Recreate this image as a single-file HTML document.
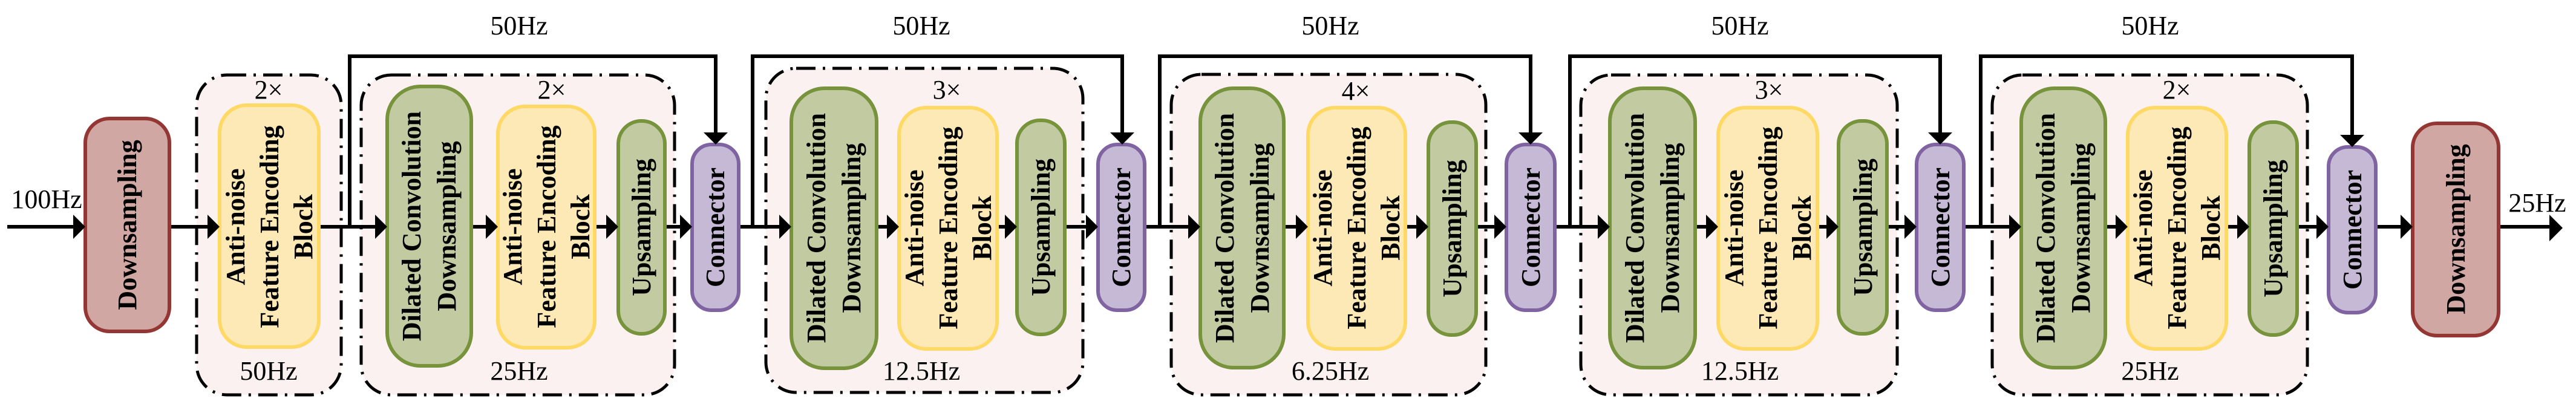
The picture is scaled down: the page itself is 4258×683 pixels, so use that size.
<!DOCTYPE html>
<html><head><meta charset="utf-8"><style>
html,body{margin:0;padding:0;background:#fff;}
svg{display:block;}
text{font-family:"Liberation Serif",serif;fill:#000;}
.b{font-weight:bold;font-size:44px;}
.r{font-size:44px;}
.dash{fill:#fbf1f1;stroke:#000;stroke-width:5;stroke-dasharray:32 12 4 12;}
.ds{fill:#d1a7a3;stroke:#943634;stroke-width:6;}
.y{fill:#fde9b5;stroke:#ffd966;stroke-width:6;}
.g{fill:#c1caa1;stroke:#77933c;stroke-width:6;}
.c{fill:#c6b9d6;stroke:#8064a2;stroke-width:6;}
.ln{fill:none;stroke:#000;stroke-width:6;}
</style></head><body>
<svg width="4258" height="683" viewBox="0 0 4258 683" xmlns="http://www.w3.org/2000/svg">
<!-- dashed groups -->
<rect class="dash" x="325" y="124" width="239" height="529" rx="50"/>
<rect class="dash" x="597" y="124" width="518" height="529" rx="50"/>
<rect class="dash" x="1266" y="113" width="524" height="536" rx="50"/>
<rect class="dash" x="1936" y="123" width="520" height="530" rx="50"/>
<rect class="dash" x="2613" y="124" width="523" height="529" rx="50"/>
<rect class="dash" x="3293" y="124" width="521" height="529" rx="50"/>

<!-- main line -->
<line class="ln" x1="12" y1="375" x2="4220" y2="375"/>
<!-- skip lines -->
<polyline class="ln" points="578,375 578,93 1183,93 1183,222"/>
<polyline class="ln" points="1244,375 1244,93 1855,93 1855,222"/>
<polyline class="ln" points="1917,375 1917,93 2530,93 2530,222"/>
<polyline class="ln" points="2595,375 2595,93 3207,93 3207,222"/>
<polyline class="ln" points="3274,375 3274,93 3888,93 3888,226"/>

<!-- boxes -->
<rect class="ds" x="141" y="196" width="139" height="352" rx="40"/>
<rect class="y" x="363" y="174" width="164" height="400" rx="45"/>

<rect class="g" x="640" y="143" width="139" height="462" rx="55"/>
<rect class="y" x="823" y="176" width="160" height="399" rx="45"/>
<rect class="g" x="1022" y="200" width="77" height="352" rx="38"/>
<rect class="c" x="1144" y="239" width="77" height="274" rx="32"/>

<rect class="g" x="1308" y="146" width="141" height="463" rx="55"/>
<rect class="y" x="1486" y="178" width="162" height="399" rx="45"/>
<rect class="g" x="1681" y="199" width="79" height="354" rx="38"/>
<rect class="c" x="1815" y="239" width="77" height="274" rx="32"/>

<rect class="g" x="1984" y="146" width="138" height="462" rx="55"/>
<rect class="y" x="2162" y="178" width="161" height="399" rx="45"/>
<rect class="g" x="2361" y="202" width="79" height="352" rx="38"/>
<rect class="c" x="2490" y="239" width="80" height="274" rx="32"/>

<rect class="g" x="2661" y="146" width="141" height="462" rx="55"/>
<rect class="y" x="2840" y="178" width="164" height="399" rx="45"/>
<rect class="g" x="3039" y="200" width="80" height="352" rx="38"/>
<rect class="c" x="3168" y="239" width="78" height="274" rx="32"/>

<rect class="g" x="3341" y="146" width="139" height="462" rx="55"/>
<rect class="y" x="3517" y="178" width="163" height="399" rx="45"/>
<rect class="g" x="3718" y="202" width="79" height="352" rx="38"/>
<rect class="c" x="3849" y="243" width="78" height="274" rx="32"/>

<rect class="ds" x="3988" y="204" width="142" height="351" rx="40"/>

<!-- arrowheads (right-pointing) -->
<g fill="#000">
<polygon points="121,355 141,375 121,395"/>
<polygon points="343,355 363,375 343,395"/>
<polygon points="620,355 640,375 620,395"/>
<polygon points="803,355 823,375 803,395"/>
<polygon points="1002,355 1022,375 1002,395"/>
<polygon points="1124,355 1144,375 1124,395"/>
<polygon points="1288,355 1308,375 1288,395"/>
<polygon points="1466,355 1486,375 1466,395"/>
<polygon points="1661,355 1681,375 1661,395"/>
<polygon points="1795,355 1815,375 1795,395"/>
<polygon points="1964,355 1984,375 1964,395"/>
<polygon points="2142,355 2162,375 2142,395"/>
<polygon points="2341,355 2361,375 2341,395"/>
<polygon points="2470,355 2490,375 2470,395"/>
<polygon points="2641,355 2661,375 2641,395"/>
<polygon points="2820,355 2840,375 2820,395"/>
<polygon points="3019,355 3039,375 3019,395"/>
<polygon points="3148,355 3168,375 3148,395"/>
<polygon points="3321,355 3341,375 3321,395"/>
<polygon points="3497,355 3517,375 3497,395"/>
<polygon points="3698,355 3718,375 3698,395"/>
<polygon points="3829,355 3849,375 3829,395"/>
<polygon points="3968,355 3988,375 3968,395"/>
<polygon points="4214,355 4236,377 4214,399"/>
<!-- down arrowheads -->
<polygon points="1163,219 1203,219 1183,239"/>
<polygon points="1835,219 1875,219 1855,239"/>
<polygon points="2510,219 2550,219 2530,239"/>
<polygon points="3187,219 3227,219 3207,239"/>
<polygon points="3868,223 3908,223 3888,243"/>
</g>

<!-- box labels -->
<text class="b" text-anchor="middle" transform="translate(210,372) rotate(-90)"><tspan x="0" y="15">Downsampling</tspan></text>
<text class="b" text-anchor="middle" transform="translate(4059,379) rotate(-90)"><tspan x="0" y="15">Downsampling</tspan></text>

<g class="b" text-anchor="middle">
<text class="b" transform="translate(445,375) rotate(-90)"><tspan x="0" y="-41">Anti-noise</tspan><tspan x="0" y="15">Feature Encoding</tspan><tspan x="0" y="71">Block</tspan></text>
<text class="b" transform="translate(903,375) rotate(-90)"><tspan x="0" y="-41">Anti-noise</tspan><tspan x="0" y="15">Feature Encoding</tspan><tspan x="0" y="71">Block</tspan></text>
<text class="b" transform="translate(1567,377) rotate(-90)"><tspan x="0" y="-41">Anti-noise</tspan><tspan x="0" y="15">Feature Encoding</tspan><tspan x="0" y="71">Block</tspan></text>
<text class="b" transform="translate(2242,377) rotate(-90)"><tspan x="0" y="-41">Anti-noise</tspan><tspan x="0" y="15">Feature Encoding</tspan><tspan x="0" y="71">Block</tspan></text>
<text class="b" transform="translate(2922,377) rotate(-90)"><tspan x="0" y="-41">Anti-noise</tspan><tspan x="0" y="15">Feature Encoding</tspan><tspan x="0" y="71">Block</tspan></text>
<text class="b" transform="translate(3598,377) rotate(-90)"><tspan x="0" y="-41">Anti-noise</tspan><tspan x="0" y="15">Feature Encoding</tspan><tspan x="0" y="71">Block</tspan></text>

<text class="b" transform="translate(709,374) rotate(-90)"><tspan x="0" y="-14">Dilated Convolution</tspan><tspan x="0" y="44">Downsampling</tspan></text>
<text class="b" transform="translate(1378,377) rotate(-90)"><tspan x="0" y="-14">Dilated Convolution</tspan><tspan x="0" y="44">Downsampling</tspan></text>
<text class="b" transform="translate(2053,377) rotate(-90)"><tspan x="0" y="-14">Dilated Convolution</tspan><tspan x="0" y="44">Downsampling</tspan></text>
<text class="b" transform="translate(2731,377) rotate(-90)"><tspan x="0" y="-14">Dilated Convolution</tspan><tspan x="0" y="44">Downsampling</tspan></text>
<text class="b" transform="translate(3410,377) rotate(-90)"><tspan x="0" y="-14">Dilated Convolution</tspan><tspan x="0" y="44">Downsampling</tspan></text>

<text class="b" transform="translate(1060,376) rotate(-90)"><tspan x="0" y="15">Upsampling</tspan></text>
<text class="b" transform="translate(1720,376) rotate(-90)"><tspan x="0" y="15">Upsampling</tspan></text>
<text class="b" transform="translate(2400,378) rotate(-90)"><tspan x="0" y="15">Upsampling</tspan></text>
<text class="b" transform="translate(3079,376) rotate(-90)"><tspan x="0" y="15">Upsampling</tspan></text>
<text class="b" transform="translate(3757,378) rotate(-90)"><tspan x="0" y="15">Upsampling</tspan></text>

<text class="b" transform="translate(1182,376) rotate(-90)"><tspan x="0" y="15">Connector</tspan></text>
<text class="b" transform="translate(1853,376) rotate(-90)"><tspan x="0" y="15">Connector</tspan></text>
<text class="b" transform="translate(2530,376) rotate(-90)"><tspan x="0" y="15">Connector</tspan></text>
<text class="b" transform="translate(3207,376) rotate(-90)"><tspan x="0" y="15">Connector</tspan></text>
<text class="b" transform="translate(3888,380) rotate(-90)"><tspan x="0" y="15">Connector</tspan></text>
</g>

<!-- plain labels -->
<g class="r" text-anchor="middle">
<text class="r" x="77" y="344">100Hz</text>
<text class="r" x="4194" y="350">25Hz</text>

<text class="r" x="858" y="57">50Hz</text>
<text class="r" x="1523" y="57">50Hz</text>
<text class="r" x="2199" y="57">50Hz</text>
<text class="r" x="2876" y="57">50Hz</text>
<text class="r" x="3554" y="57">50Hz</text>

<text class="r" x="444" y="628">50Hz</text>
<text class="r" x="858" y="628">25Hz</text>
<text class="r" x="1523" y="628">12.5Hz</text>
<text class="r" x="2199" y="628">6.25Hz</text>
<text class="r" x="2876" y="628">12.5Hz</text>
<text class="r" x="3554" y="628">25Hz</text>

<text class="r" x="444" y="163">2×</text>
<text class="r" x="912" y="163">2×</text>
<text class="r" x="1565" y="163">3×</text>
<text class="r" x="2241" y="165">4×</text>
<text class="r" x="2924" y="163">3×</text>
<text class="r" x="3598" y="163">2×</text>
</g>
</svg>
</body></html>
